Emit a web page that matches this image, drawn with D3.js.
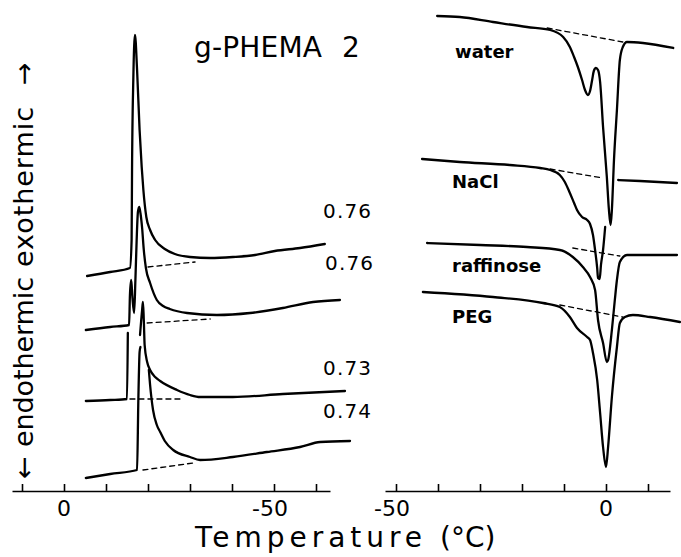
<!DOCTYPE html>
<html><head><meta charset="utf-8">
<script src="https://cdn.jsdelivr.net/npm/d3@7"></script>
<style>
html,body{margin:0;padding:0;background:#fff;}
svg{display:block;}
text{font-family:"DejaVu Sans",sans-serif;fill:#000;}
</style></head>
<body>
<svg id="c" width="681" height="557"></svg>
<script>
// ---- Data: [temperature (°C), DSC signal (arb. units)], null = pen lift ----
// Left panel: cooling traces of g-PHEMA 2 at different water contents
const labelsLeft = ["0.76", "0.76", "0.73", "0.74"];
const coolA = [[-5.5,215],[-11.0,219],[-15.7,223],[-16.1,251],[-16.2,321],[-16.5,411],[-16.9,456],[-17.4,421],[-18.0,361],[-18.5,324],[-18.9,301],[-19.6,274],[-20.5,261],[-21.7,251],[-24.0,242],[-26.4,237],[-30.0,234],[-34.8,233],[-40.2,234],[-45.5,236],[-50.2,240],[-56.2,243],[-62.1,247]];
const coolB = [[-5.2,161],[-11.0,164],[-15.5,166],[-15.7,196],[-16.0,211],[-16.3,193],[-16.7,178],[-17.0,211],[-17.3,251],[-17.6,279],[-17.9,284],[-18.2,278],[-18.6,263],[-19.0,241],[-19.5,223],[-20.5,208],[-22.1,191],[-23.6,185],[-25.2,182],[-29.3,178],[-36.4,176],[-44.3,178],[-52.1,183],[-59.3,189],[-65.7,191]];
const coolC = [[-5.2,90],[-11.0,91],[-15.0,92],[-15.2,158],null,[-18.1,156],[-18.6,181],[-18.8,189],[-19.0,171],[-19.2,146],[-19.8,129],[-20.5,121],[-21.7,114],[-22.9,110],[-26.9,101],[-30.0,96],[-32.4,94],[-40.2,94],[-52.1,97],[-66.9,100]];
const coolD = [[-5.2,13],[-11.0,17],[-17.4,21],[-17.7,91],[-18.0,139],[-18.2,144],null,[-20.2,121],[-20.5,106],[-21.2,81],[-22.1,66],[-22.9,59],[-24.0,50],[-26.0,41],[-30.0,34],[-32.4,31],[-40.2,34],[-48.3,39],[-56.2,44],[-61.0,49],[-68.1,50]];
const baseA = [[-20.0,224],[-31.2,229]];
const baseB = [[-19.8,168],[-34.8,172]];
const baseC = [[-15.7,92],[-28.3,92]];
const baseD = [[-18.8,21],[-30.7,28]];

// Right panel: heating traces in different media
const labelsRight = ["water", "NaCl", "raffinose", "PEG"];
const heatWater = [[-40.2,475],[-34.8,474],[-26.9,469],[-18.8,464],[-13.3,461],[-10.2,454],[-8.6,444],[-7.6,434],[-6.7,424],[-5.7,411],[-5.0,401],[-4.3,396],[-3.8,400],[-3.3,411],[-2.9,420],[-2.4,423],[-1.9,421],[-1.4,409],[-0.7,364],[0.2,314],[0.7,281],[1.1,266],[1.4,281],[1.9,331],[2.6,381],[3.3,431],[4.0,444],[5.0,449],[8.8,448],[16.0,443]];
const heatNaCl = [[-43.8,332],[-34.8,329],[-22.9,326],[-15.7,323],[-13.3,321],[-11.0,316],[-9.8,309],[-8.6,298],[-7.6,288],[-6.9,281],[-5.7,274],[-4.5,271],[-3.8,267],[-3.1,256],[-2.6,241],[-2.1,223],[-1.9,213],[-1.5,212],[-1.2,226],[-0.7,241],[-0.2,264],null,[2.9,311],[8.1,310],[16.9,308]];
const heatRaff = [[-42.6,248],[-30.0,246],[-18.8,244],[-11.0,241],[-7.9,234],[-5.5,224],[-3.8,214],[-2.6,201],[-1.9,171],[-0.7,148],[0.2,129],[0.5,131],[1.4,161],[2.1,191],[2.6,211],[3.3,229],[5.0,236],[16.9,236]];
const heatPEG = [[-43.6,199],[-26.9,194],[-15.0,188],[-11.0,184],[-8.6,174],[-6.9,163],[-4.5,154],[-3.8,151],[-3.1,138],[-2.1,111],[-1.4,78],[-0.7,44],[0.0,24],[0.5,44],[1.4,94],[2.6,144],[3.3,168],[4.5,174],[6.4,176],[10.5,174],[17.6,169]];
const baseWater = [[-14.0,463],[4.0,449]];
const baseNaCl = [[-13.3,322],[-0.7,313]];
const baseRaff = [[-7.9,243],[3.3,235]];
const basePEG = [[-11.0,186],[4.0,174]];

const ticksLeft = [10,0,-10,-20,-30,-40,-50,-60];
const tickLabelsLeft = [0,-50];
const ticksRight = [-50,-40,-30,-20,-10,0,10];
const tickLabelsRight = [-50,0];

// ---- Layout ----
const svg = d3.select("#c");
const axisY = 491;
const xL = d3.scaleLinear().domain([0,-50]).range([64,274]);
const xR = d3.scaleLinear().domain([-50,0]).range([396,606]);
const y = d3.scaleLinear().domain([0,491]).range([axisY,0]);

function drawCurve(data, x, dashed){
  const line = d3.line().defined(d=>d!==null).x(d=>x(d[0])).y(d=>y(d[1]))
    .curve(dashed ? d3.curveLinear : d3.curveMonotoneX);
  svg.append("path").attr("d", line(data)).attr("fill","none")
    .attr("stroke","#000")
    .attr("stroke-width", dashed ? 1.3 : 2.3)
    .attr("stroke-linejoin","round").attr("stroke-linecap","round")
    .attr("stroke-dasharray", dashed ? "5,4" : null);
}
[coolA,coolB,coolC,coolD].forEach(d=>drawCurve(d,xL,false));
[baseA,baseB,baseC,baseD].forEach(d=>drawCurve(d,xL,true));
[heatWater,heatNaCl,heatRaff,heatPEG].forEach(d=>drawCurve(d,xR,false));
[baseWater,baseNaCl,baseRaff,basePEG].forEach(d=>drawCurve(d,xR,true));

// axes
function drawAxis(x, x0, x1, ticks, labels){
  const xa = x.copy().domain([x.invert(x0), x.invert(x1)]).range([x0,x1]);
  const g = svg.append("g").attr("transform",`translate(0,${axisY})`)
    .call(d3.axisTop(xa).tickValues(ticks).tickSize(7).tickSizeOuter(0).tickFormat(""));
  g.select(".domain").attr("stroke","#000").attr("stroke-width",1.6);
  g.selectAll(".tick line").attr("stroke","#000").attr("stroke-width",1.6);
  labels.forEach(v=>{
    svg.append("text").attr("x", x(v)).attr("y", 516)
      .attr("dx", v<0 ? -4 : 0)
      .attr("text-anchor","middle").attr("font-size",22).text(String(v));
  });
}
drawAxis(xL, 12, 330, ticksLeft, tickLabelsLeft);
drawAxis(xR, 385, 670, ticksRight, tickLabelsRight);

// texts
function txt(x, yy, s, size, opts={}){
  const t = svg.append("text").attr("x",x).attr("y",yy).attr("font-size",size).text(s);
  if(opts.len){ t.attr("textLength",opts.len).attr("lengthAdjust","spacing"); }
  if(opts.weight){ t.attr("font-weight",opts.weight); }
  return t;
}
txt(194, 57, "g-PHEMA", 28, {len:128});
txt(342, 57, "2", 28);
const leftLabelPos = [[323,218],[325,270],[323,375],[323,418]];
labelsLeft.forEach((s,i)=>txt(leftLabelPos[i][0], leftLabelPos[i][1], s, 20, {len:48}));
const rightLabelPos = [[455,58],[452,188],[452,272],[452,323]];
labelsRight.forEach((s,i)=>txt(rightLabelPos[i][0], rightLabelPos[i][1], s, 18, {weight:"bold"}));
txt(195, 547, "Temperature", 28, {len:227});
txt(440, 547, "(°C)", 28);

// rotated y-label
function rtxt(yStart, s, len){
  const t = svg.append("text").attr("transform",`translate(33,${yStart}) rotate(-90)`)
    .attr("font-size",27).text(s);
  if(len) t.attr("textLength",len).attr("lengthAdjust","spacing");
}
rtxt(479, "←");
rtxt(447, "endothermic", 170);
rtxt(267, "exothermic", 160);
rtxt(85, "→");
</script>
</body></html>
